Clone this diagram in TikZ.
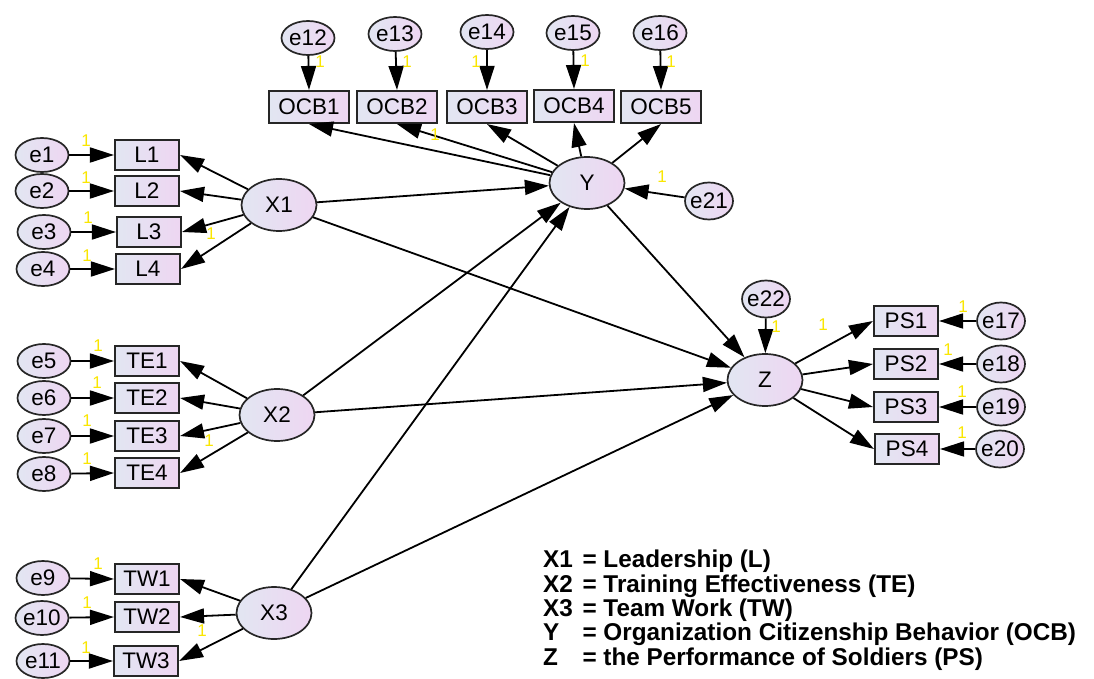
\documentclass[tikz,border=0pt]{standalone}
\usepackage{fontspec}
\setmainfont{Liberation Sans}
\usetikzlibrary{shapes.geometric,arrows.meta}
\definecolor{cA}{RGB}{226,230,242}
\definecolor{cB}{RGB}{238,214,242}
\definecolor{one}{RGB}{250,230,0}
\newcommand\legkey[1]{\makebox[1.62em][l]{#1}}
\tikzset{
  base/.style={draw=black!85, line width=1.7pt, left color=cA, right color=cB, inner sep=1pt, font=\fontsize{22.5}{24}\selectfont},
  lat/.style={base, ellipse, minimum width=75pt, minimum height=52pt},
  err/.style={base, ellipse, inner xsep=-7pt, inner ysep=-4pt, minimum width=53pt, minimum height=34pt},
  errs/.style={base, ellipse, inner xsep=-7pt, inner ysep=-4pt, minimum width=48pt, minimum height=37pt},
  obs/.style={base, rectangle, line width=2.1pt, minimum width=64pt, minimum height=30pt},
  obsw/.style={base, rectangle, line width=2.1pt, minimum width=80pt, minimum height=32pt},
  arr/.style={-{Triangle[length=24pt,width=15pt]}, line width=1.8pt},
  onelab/.style={text=one, font=\fontsize{17}{17}\selectfont, inner sep=0pt}
}
\begin{document}
\begin{tikzpicture}[x=1pt,y=-1pt]
\useasboundingbox[fill=white] (0,0) rectangle (1094,679);
% latent
\node[lat] (X1) at (279,205) {X1};
\node[lat] (X2) at (277,415) {X2};
\node[lat] (X3) at (274,613) {X3};
\node[lat] (Y) at (587,183) {Y};
\node[lat] (Z) at (765,380) {Z};
% L block
\node[obs] (L1) at (147,155) {L1};
\node[obs] (L2) at (147,191) {L2};
\node[obs] (L3) at (149,232) {L3};
\node[obs] (L4) at (148,269) {L4};
\node[err] (e1) at (42,155) {e1};
\node[err] (e2) at (42,191) {e2};
\node[err] (e3) at (44,232) {e3};
\node[err] (e4) at (43,269) {e4};
% TE block
\node[obs] (TE1) at (147,361) {TE1};
\node[obs] (TE2) at (147,398) {TE2};
\node[obs] (TE3) at (147,436) {TE3};
\node[obs] (TE4) at (147,473) {TE4};
\node[err] (e5) at (44,361) {e5};
\node[err] (e6) at (44,398) {e6};
\node[err] (e7) at (44,436) {e7};
\node[err] (e8) at (44,474) {e8};
% TW block
\node[obs] (TW1) at (147,579) {TW1};
\node[obs] (TW2) at (147,617) {TW2};
\node[obs] (TW3) at (146,661) {TW3};
\node[err] (e9) at (43,578) {e9};
\node[err] (e10) at (42,618) {e10};
\node[err] (e11) at (43,661) {e11};
% OCB block
\node[obsw] (OCB1) at (309,107) {OCB1};
\node[obsw] (OCB2) at (397,107) {OCB2};
\node[obsw] (OCB3) at (487,107) {OCB3};
\node[obsw] (OCB4) at (574,106) {OCB4};
\node[obsw] (OCB5) at (661,107) {OCB5};
\node[err] (e12) at (308,38) {e12};
\node[err] (e13) at (395,34) {e13};
\node[err] (e14) at (487,32) {e14};
\node[err] (e15) at (573,33) {e15};
\node[err] (e16) at (660,33) {e16};
\node[errs] (e21) at (709,201) {e21};
\node[errs] (e22) at (766,299) {e22};
% PS block
\node[obs] (PS1) at (906,321) {PS1};
\node[obs] (PS2) at (906,364) {PS2};
\node[obs] (PS3) at (906,407) {PS3};
\node[obs] (PS4) at (907,449) {PS4};
\node[errs] (e17) at (1001,321) {e17};
\node[errs] (e18) at (1001,364) {e18};
\node[errs] (e19) at (1001,407) {e19};
\node[errs] (e20) at (1000,449) {e20};
% error arrows
\foreach \e/\o in {e1/L1,e2/L2,e3/L3,e4/L4,e5/TE1,e6/TE2,e7/TE3,e8/TE4,e9/TW1,e10/TW2,e11/TW3}
  \draw[arr] (\e) -- (\o.west);
\foreach \e/\o in {e12/OCB1,e13/OCB2,e14/OCB3,e15/OCB4,e16/OCB5}
  \draw[arr] (\e) -- (\o.north);
\foreach \e/\o in {e17/PS1,e18/PS2,e19/PS3,e20/PS4}
  \draw[arr] (\e) -- (\o.east);
\draw[arr] (e21) -- (Y);
\draw[arr] (e22) -- (Z);
% loadings
\foreach \o in {L1,L2,L3,L4} \draw[arr] (X1) -- (\o.east);
\foreach \o in {TE1,TE2,TE3,TE4} \draw[arr] (X2) -- (\o.east);
\foreach \o in {TW1,TW2,TW3} \draw[arr] (X3) -- (\o.east);
\foreach \o in {OCB1,OCB2,OCB3,OCB4,OCB5} \draw[arr] (Y) -- (\o.south);
\foreach \o in {PS1,PS2,PS3,PS4} \draw[arr] (Z) -- (\o.west);
% structural paths
\draw[arr] (X1) -- (Y);
\draw[arr] (X2) -- (Y);
\draw[arr] (X3) -- (Y);
\draw[arr] (X1) -- (Z);
\draw[arr] (X2) -- (Z);
\draw[arr] (X3) -- (Z);
\draw[arr] (Y) -- (Z);
% yellow 1 labels
\foreach \p in {(86,141),(86,178),(88,218),(87,256),(211,234),
  (98,346),(97,383),(87,421),(87,459),(209,441),
  (98,564),(87,603),(86,648),(202,631),
  (320,62),(407,62),(476,62),(585,61),(671,62),(435,135),
  (662,177),(776,327),(823,325),(963,307),(948,350),(962,392),(962,433)}
  \node[onelab] at \p {1};
% legend
\node[anchor=north west, inner sep=0pt, align=left, font=\bfseries\fontsize{24.3}{24.3}\selectfont] (leg) at (543,550)
 {\legkey{X1}= Leadership (L)\\
  \legkey{X2}= Training Effectiveness (TE)\\
  \legkey{X3}= Team Work (TW)\\
  \legkey{Y}= Organization Citizenship Behavior (OCB)\\
  \legkey{Z}= the Performance of Soldiers (PS)};
\end{tikzpicture}
\end{document}
